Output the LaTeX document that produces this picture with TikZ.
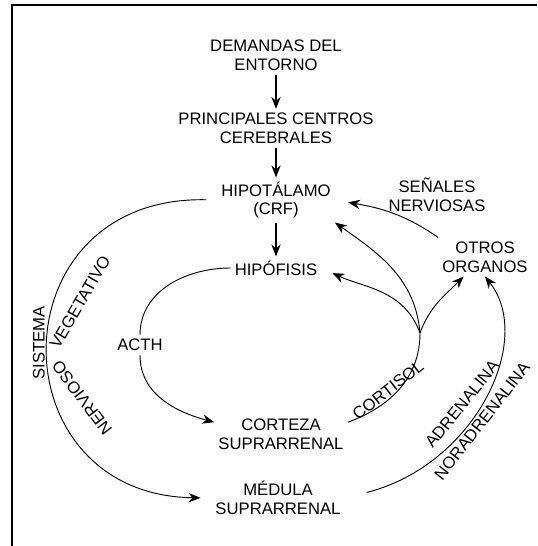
\documentclass[tikz,border=0pt]{standalone}
\usepackage{fontspec}
\setmainfont{Liberation Sans}
\usetikzlibrary{arrows.meta,calc}

\begin{document}
\begin{tikzpicture}[x=15pt, y=15pt,
		box/.style={font=\fontsize{12.5}{14}\selectfont, align=center, inner sep=3pt},
		tag/.style={font=\fontsize{12.5}{14}\selectfont, inner sep=1pt},
		wire/.style={line width=0.7pt},
		flow/.style={wire, -{Stealth[length=9pt, width=7pt]}},
		main/.style={flow, line width=1.1pt}]
			\useasboundingbox (0, 0) rectangle (26.85, 27.3);
			% frame
			\coordinate (TR) at (26.85, 27.05);
			\coordinate (TL) at (0.6, 27.05);
			\coordinate (BL) at (0.6, 0);
			\draw[line width=1.5pt] (TR) -- (TL) -- (BL);

			% boxes
			\node[box] (entorno) at (13.8, 24.52) {DEMANDAS DEL\\ENTORNO};
			\node[box] (centros) at (13.8, 20.88) {PRINCIPALES CENTROS\\CEREBRALES};
			\node[box] (hipotalamo) at (13.8, 17.3) {HIPOTÁLAMO\\(CRF)};
			\node[box] (hipofisis) at (13.8, 13.9) {HIPÓFISIS};
			\node[box] (senales) at (21.85, 17.55) {SEÑALES\\NERVIOSAS};
			\node[box] (otros) at (24.25, 14.45) {OTROS\\ORGANOS};
			\node[box] (acth) at (7.0, 10.05) {ACTH};
			\node[box] (corteza) at (14.05, 5.6) {CORTEZA\\SUPRARRENAL};
			\node[box] (medula) at (13.9, 2.4) {MÉDULA\\SUPRARRENAL};
			\coordinate (Y) at (21.0, 10.65);

			% central chain
			\draw[main] (entorno) -- (centros);
			\draw[main] (centros) -- (hipotalamo);
			\draw[main] (hipotalamo) -- (hipofisis);

			% nervous system
			\draw[flow, shorten <=8pt, shorten >=8pt] (hipotalamo.west) .. controls (-0.25, 17.55) and (-0.25, 2.55) .. (medula.west);
			\node[tag, rotate=90] (sistema) at (1.95, 10.15) {SISTEMA};
			\node[tag, rotate=60] (vegetativo) at (4.0, 12.2) {VEGETATIVO};
			\node[tag, rotate=127] (nervioso) at (4.1, 7.4) {NERVIOSO};

			% ACTH loop
			\draw[wire] (hipofisis.west) to[out=180, in=90] (acth.north);
			\draw[flow] (acth.south) to[out=-90, in=165] (corteza.170);

			% cortisol
			\draw[wire] (corteza.10) to[out=20, in=-90] (Y);
			\node[tag, rotate=38] (cortisol) at (19.4, 7.8) {CORTISOL};
			\draw[flow, shorten >=9pt] (Y) to[out=110, in=-25] (hipofisis.east);
			\draw[flow] (Y) to[out=95, in=-35] (hipotalamo.south east);
			\draw[flow] (Y) to[out=70, in=-135] ([xshift=-16pt]otros.south);

			% nerve signals
			\draw[flow, shorten >=10pt] (otros.north west) to[out=145, in=-10] (hipotalamo.east);

			% adrenaline
			\draw[flow, shorten <=17pt] (medula.east) .. controls (23.75, 4.05) and (26.75, 10.3) .. (otros.south);
			\node[tag, rotate=51] (adrenalina) at (23.1, 7.1) {ADRENALINA};
			\node[tag, rotate=52] (noradrenalina) at (24.1, 6.25) {NORADRENALINA};
		\end{tikzpicture}
\end{document}
